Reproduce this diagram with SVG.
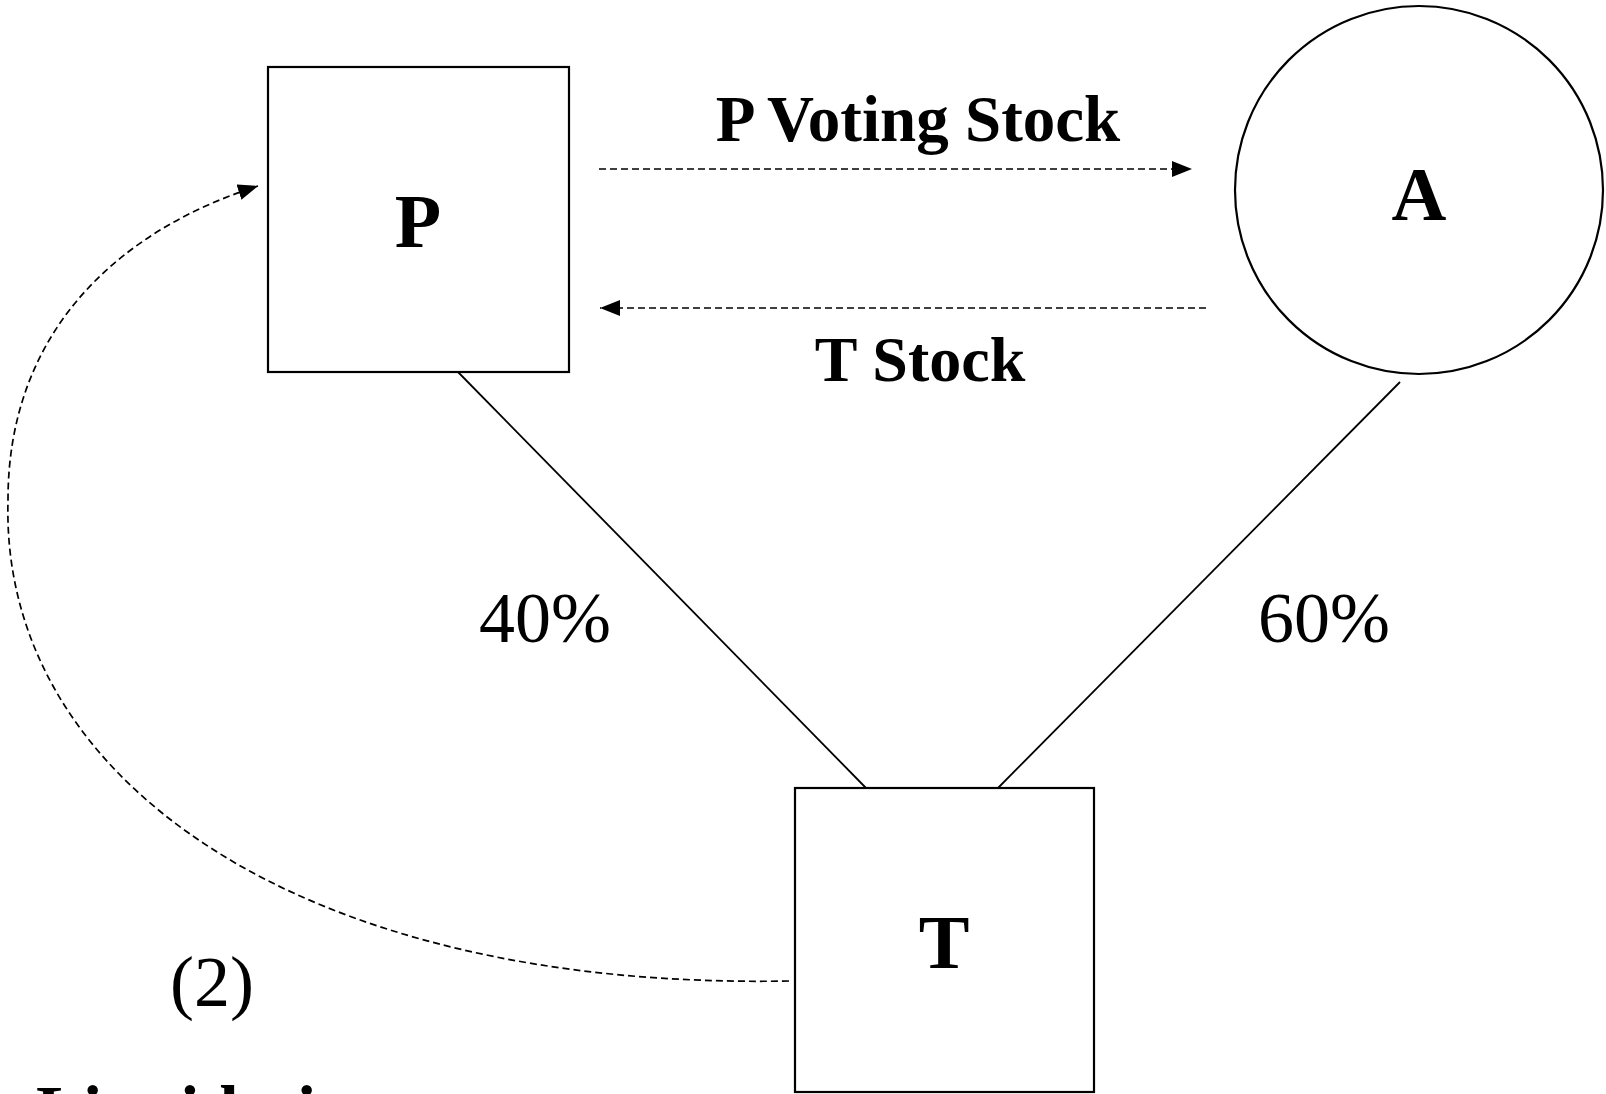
<svg xmlns="http://www.w3.org/2000/svg" width="1606" height="1094" viewBox="0 0 1606 1094">
<style>
.node{fill:#fff;stroke:#000;stroke-width:2.2}
.lbl{font-family:"Liberation Serif","Times New Roman",serif;font-weight:bold;fill:#000}
.reg{font-family:"Liberation Serif","Times New Roman",serif;fill:#000}
.solid{stroke:#000;stroke-width:1.8;fill:none}
.dash{stroke:#000;stroke-width:1.7;fill:none;stroke-dasharray:7 4}
</style>
<defs>
<marker id="ah" markerUnits="userSpaceOnUse" markerWidth="22" markerHeight="18" refX="20" refY="8" orient="auto">
<path d="M0,0 L20,8 L0,16 z" fill="#000"/>
</marker>
</defs>
<rect width="1606" height="1094" fill="#fff"/>
<g id="connectors">
<line class="solid" x1="458" y1="372" x2="866" y2="788"/>
<line class="solid" x1="1400" y1="382" x2="998" y2="788"/>
<line class="dash" x1="599" y1="169" x2="1192" y2="169" marker-end="url(#ah)"/>
<line class="dash" x1="1206" y1="308" x2="600" y2="308" marker-end="url(#ah)"/>
<path class="dash" d="M789 981 C300 990, 0 780, 8 500 C8 330, 120 230, 258 186" marker-end="url(#ah)"/>
</g>
<g id="node-P">
<rect class="node" x="268" y="67" width="301" height="305"/>
<text class="lbl" x="418" y="247" font-size="76" text-anchor="middle">P</text>
</g>
<g id="node-A">
<circle class="node" cx="1419" cy="190" r="184"/>
<text class="lbl" x="1419" y="220" font-size="76" text-anchor="middle">A</text>
</g>
<g id="node-T">
<rect class="node" x="795" y="788" width="299" height="304"/>
<text class="lbl" x="944" y="968" font-size="76" text-anchor="middle">T</text>
</g>
<g id="labels">
<text class="lbl" x="918" y="141" font-size="65" text-anchor="middle">P Voting Stock</text>
<text class="lbl" x="920" y="381" font-size="64" text-anchor="middle">T Stock</text>
<text class="reg" x="545" y="642" font-size="72" text-anchor="middle">40%</text>
<text class="reg" x="1324" y="642" font-size="72" text-anchor="middle">60%</text>
<text class="reg" x="212" y="1006" font-size="72" text-anchor="middle">(2)</text>
<text class="lbl" x="36" y="1134" font-size="70">Liquidation</text>
</g>
</svg>
